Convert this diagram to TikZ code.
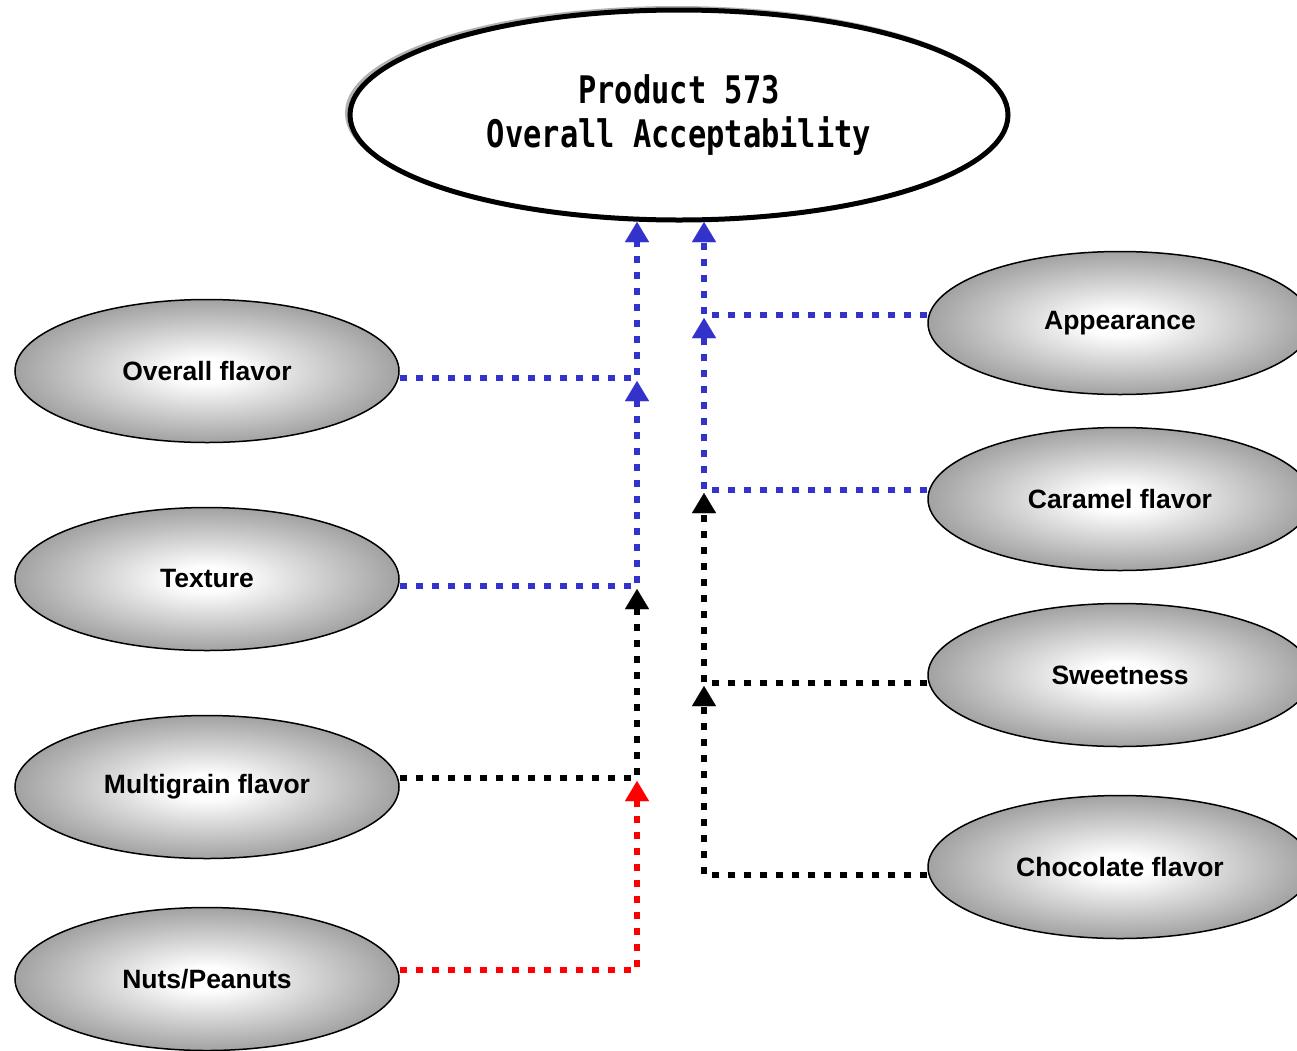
\documentclass[tikz,border=0pt]{standalone}
\usepackage{fontspec}
\setmainfont{Liberation Sans}
\newfontfamily\titlefont[FakeStretch=0.8]{DejaVu Sans Mono}
\usetikzlibrary{arrows.meta,shapes.geometric,calc}
\pgfdeclareradialshading{grayell}{\pgfpoint{0bp}{0bp}}{color(0bp)=(white); color(4bp)=(white); color(27bp)=(black!40); color(50bp)=(black!40)}
\definecolor{lblue}{RGB}{51,51,204}
\definecolor{lred}{RGB}{255,0,0}
\tikzset{
  factor/.style={ellipse, draw=black, line width=1.5pt, shading=grayell,
    minimum width=384pt, minimum height=143pt, inner sep=0pt,
    font=\bfseries\fontsize{26.5}{30}\selectfont},
  topell/.style={ellipse, draw=black, line width=5pt, fill=white,
    minimum width=658pt, minimum height=210pt, inner sep=0pt, align=center,
    font=\titlefont\bfseries\fontsize{38}{44}\selectfont},
  link/.style={line width=6.5pt, dash pattern=on 7pt off 9pt,
    -{Triangle[width=24pt,length=20pt,line width=0.01pt]}}
}
\begin{document}
\begin{tikzpicture}[x=1pt,y=-1pt]
\clip (0,0) rectangle (1297,1050);
\fill[white] (0,0) rectangle (1297,1050);
% top node with slight shadow
\draw[gray!60, line width=4pt] (676,113) ellipse [x radius=329, y radius=105];
\node[topell] (top) at (679,115) {\raisebox{-3pt}{Product 573}\\\raisebox{-3pt}{Overall Acceptability}};
% left factors
\node[factor] (ov) at (207,371) {Overall flavor};
\node[factor] (tx) at (207,579) {Texture};
\node[factor] (mg) at (207,787) {Multigrain flavor};
\node[factor] (np) at (207,979) {Nuts/Peanuts};
% right factors
\node[factor] (ap) at (1120,323) {Appearance};
\node[factor] (ca) at (1120,499) {Caramel flavor};
\node[factor] (sw) at (1120,675) {Sweetness};
\node[factor] (ch) at (1120,867) {Chocolate flavor};
% arrow targets
\coordinate (tl) at (637,222);
\coordinate (tr) at (704,222);
\coordinate (jl1) at (637,381);
\coordinate (jl2) at (637,589);
\coordinate (jl3) at (637,781);
\coordinate (jr1) at (704,318);
\coordinate (jr2) at (704,493);
\coordinate (jr3) at (704,686);
% connectors
\draw[link, lblue] ([yshift=-7pt]ov.east) -| (tl);
\draw[link, lblue] ([yshift=-7pt]tx.east) -| (jl1);
\draw[link, black] ([yshift=9pt]mg.east) -| (jl2);
\draw[link, lred] ([yshift=9pt]np.east) -| (jl3);
\draw[link, lblue] ([yshift=8pt]ap.west) -| (tr);
\draw[link, lblue] ([yshift=9pt]ca.west) -| (jr1);
\draw[link, black] ([yshift=-8pt]sw.west) -| (jr2);
\draw[link, black] ([yshift=-8pt]ch.west) -| (jr3);
\end{tikzpicture}
\end{document}
